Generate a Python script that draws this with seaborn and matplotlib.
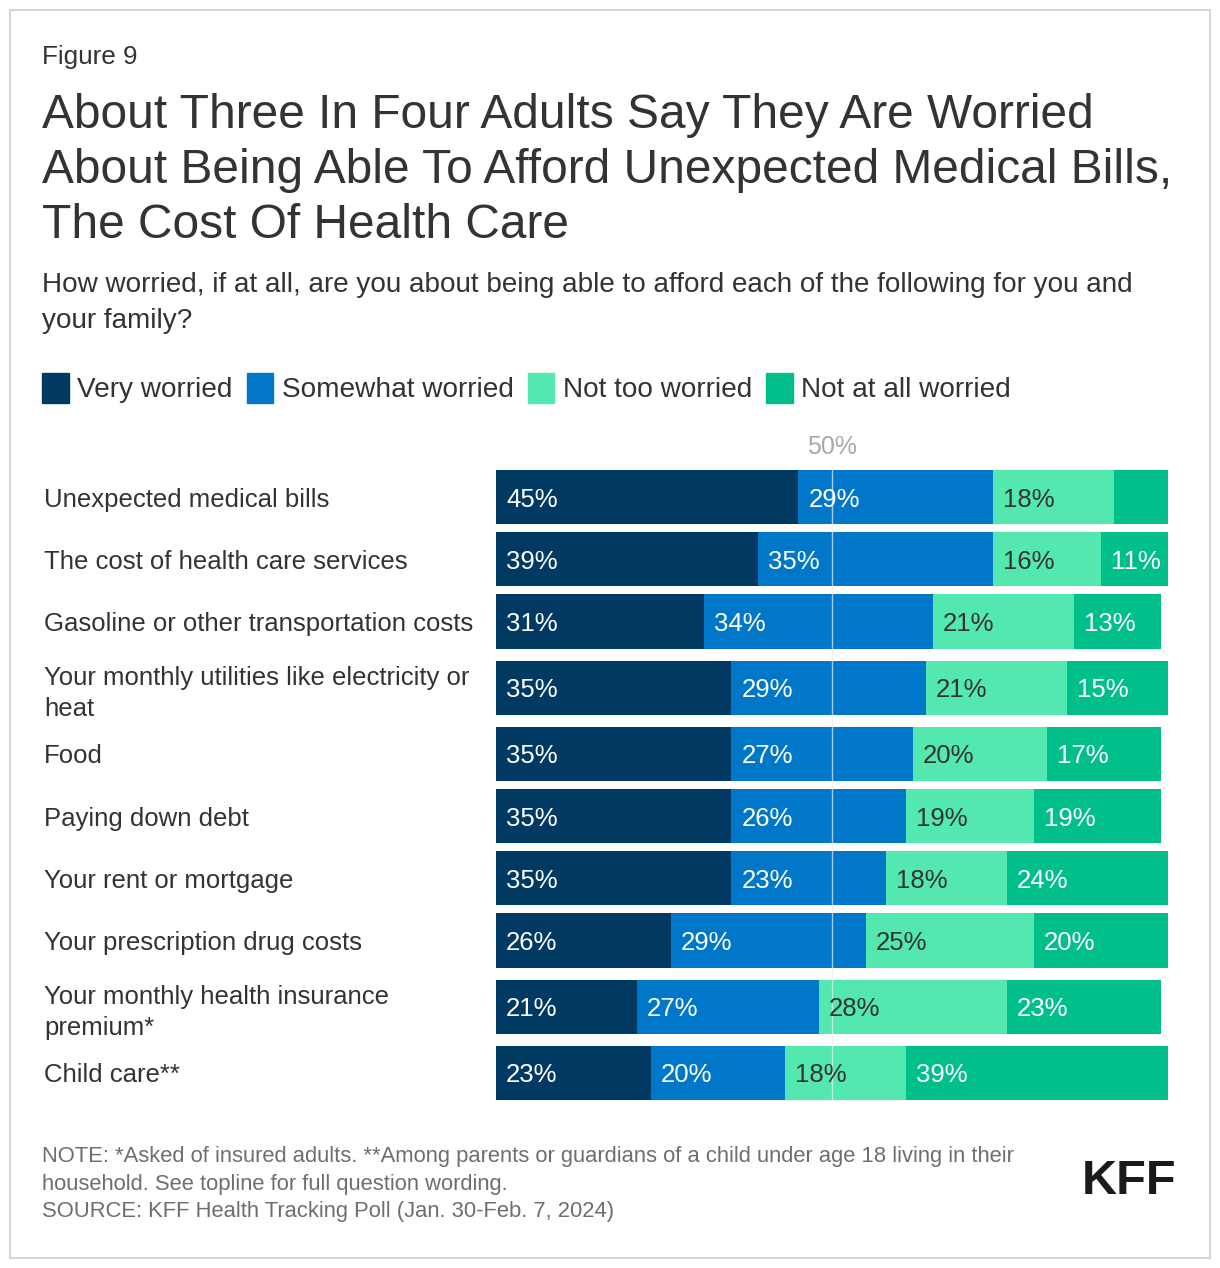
import matplotlib.pyplot as plt
import matplotlib.patches as mpatches
import seaborn as sns
import pandas as pd

categories = [
    "Unexpected medical bills",
    "The cost of health care services",
    "Gasoline or other transportation costs",
    "Your monthly utilities like electricity or\nheat",
    "Food",
    "Paying down debt",
    "Your rent or mortgage",
    "Your prescription drug costs",
    "Your monthly health insurance\npremium*",
    "Child care**",
]
very = [45, 39, 31, 35, 35, 35, 35, 26, 21, 23]
somewhat = [29, 35, 34, 29, 27, 26, 23, 29, 27, 20]
not_too = [18, 16, 21, 21, 20, 19, 18, 25, 28, 18]
not_at_all = [8, 11, 13, 15, 17, 19, 24, 20, 23, 39]

series = ["Very worried", "Somewhat worried", "Not too worried", "Not at all worried"]
colors = ["#003a63", "#0077c8", "#52e8b0", "#00bf8a"]
label_colors = ["white", "white", "#333333", "white"]

df = pd.DataFrame({"category": categories, "Very worried": very,
                   "Somewhat worried": somewhat, "Not too worried": not_too,
                   "Not at all worried": not_at_all})
cum = df[series].cumsum(axis=1)

# row positions: rows next to a two-line label get a bit more room
twoline = ["\n" in c for c in categories]
pos = [0.0]
for i in range(1, len(categories)):
    pos.append(pos[-1] + (1.065 if (twoline[i] or twoline[i - 1]) else 1.0))
cum["pos"] = pos

sns.set_theme(style="white")
plt.rcParams['font.family'] = ['Liberation Sans', 'DejaVu Sans']

fig = plt.figure(figsize=(12.2, 12.68), dpi=100)
ax = fig.add_axes([496 / 1220, 1 - 1100 / 1268, 672 / 1220, (1100 - 470) / 1268])

half = 27 / 62
# draw cumulative totals from largest to smallest so they stack
for i in range(len(series) - 1, -1, -1):
    sns.barplot(data=cum, y="pos", x=series[i], native_scale=True,
                color=colors[i], width=2 * half, orient="y", ax=ax, saturation=1,
                linewidth=0, zorder=2)

for r in range(len(categories)):
    start = 0
    for i, s in enumerate(series):
        v = df.loc[r, s]
        if v >= 10:
            ax.text(start + 1.5, pos[r], f"{v}%", va="center_baseline", ha="left",
                    color=label_colors[i], fontsize=18.5, zorder=4)
        start += v

ax.axvline(50, color="#e6f2fa", alpha=0.7, lw=1, zorder=3)
ax.text(50, -half - 0.18, "50%", ha="center", va="bottom", color="#a8a8a8", fontsize=18)

ax.set_xlim(0, 100)
ax.set_ylim(pos[-1] + half, -half)
ax.set_yticks(pos)
ax.set_yticklabels(categories)
ax.set_xlabel("")
ax.set_ylabel("")
ax.set_xticks([])
for sp in ax.spines.values():
    sp.set_visible(False)
ax.tick_params(axis="y", length=0, pad=452 * 0.72, labelsize=18.5, labelcolor="#333333")
for t in ax.get_yticklabels():
    t.set_ha("left")
    t.set_linespacing(1.35)

fig.text(42 / 1220, 1 - 57 / 1268, "Figure 9", fontsize=18.8, color="#333333", va="center")
fig.text(42 / 1220, 1 - 93 / 1268,
         "About Three In Four Adults Say They Are Worried\n"
         "About Being Able To Afford Unexpected Medical Bills,\n"
         "The Cost Of Health Care",
         fontsize=34.5, color="#333333", va="top", linespacing=1.29)
fig.text(42 / 1220, 1 - 272 / 1268,
         "How worried, if at all, are you about being able to afford each of the following for you and\n"
         "your family?",
         fontsize=20.1, color="#333333", va="top", linespacing=1.5)

handles = [mpatches.Patch(color=c, label=s) for c, s in zip(colors, series)]
leg = fig.legend(handles=handles, loc="center left", bbox_to_anchor=(31 / 1220, 1 - 388 / 1268),
                 ncol=4, frameon=False, fontsize=20.2, handlelength=0.95, handleheight=1.3,
                 handletextpad=0.3, columnspacing=0.5, borderaxespad=0)
for t in leg.get_texts():
    t.set_color("#333333")

fig.text(42 / 1220, 1 - 1146 / 1268,
         "NOTE: *Asked of insured adults. **Among parents or guardians of a child under age 18 living in their\n"
         "household. See topline for full question wording.\n"
         "SOURCE: KFF Health Tracking Poll (Jan. 30-Feb. 7, 2024)",
         fontsize=15.8, color="#6e6e6e", va="top", linespacing=1.42)
fig.text(1176 / 1220, 1 - 1181 / 1268, "KFF", fontsize=35, fontweight="bold",
         family=["Liberation Sans Narrow", "Liberation Sans"], color="#1a1a1a",
         ha="right", va="center")

fig.patches.append(mpatches.Rectangle((10 / 1220, 10 / 1268), 1200 / 1220, 1248 / 1268,
                                      transform=fig.transFigure, fill=False,
                                      edgecolor="#cccccc", lw=1.2))

fig.savefig("out.png", dpi=100)
